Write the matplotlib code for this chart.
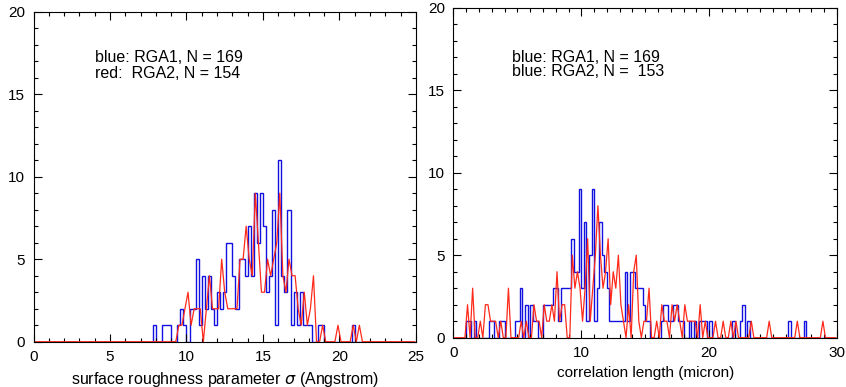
import numpy as np
import matplotlib
matplotlib.use("Agg")
import matplotlib.pyplot as plt
from matplotlib.ticker import MultipleLocator

plt.rcParams["font.family"] = ["Liberation Sans", "DejaVu Sans"]
plt.rcParams["mathtext.fontset"] = "dejavusans"

# ---- left panel: surface roughness (bin width 0.2) ----
left_blue_start = [7.8, 8.4, 8.6, 8.8, 9.4, 9.6, 9.8, 10.2, 10.4, 10.6, 10.8, 11.0, 11.2,
                   11.4, 11.6, 11.8, 12.0, 12.2, 12.4, 12.6, 12.8, 13.0, 13.2, 13.4, 13.6,
                   13.8, 14.0, 14.2, 14.4, 14.6, 14.8, 15.0, 15.2, 15.4, 15.6, 15.8, 16.0,
                   16.2, 16.4, 16.6, 16.8, 17.0, 17.2, 17.4, 17.6, 17.8, 18.0, 18.6, 18.8, 20.8]
left_blue_n = [1, 1, 1, 1, 1, 2, 1, 2, 2, 5, 1, 4, 2,
               4, 2, 1, 3, 2, 3, 6, 6, 4, 2, 5, 5,
               4, 7, 4, 9, 6, 9, 7, 3, 4, 8, 1, 11,
               4, 3, 8, 1, 3, 1, 3, 1, 1, 1, 1, 1, 1]

left_red_x = [9.5, 9.7, 9.9, 10.1, 10.3, 10.5, 10.7, 10.9, 11.1, 11.3, 11.5, 11.7, 11.9,
              12.1, 12.3, 12.5, 12.7, 12.9, 13.1, 13.3, 13.5, 13.7, 13.9, 14.1, 14.3,
              14.5, 14.7, 14.9, 15.1, 15.3, 15.5, 15.7, 15.9, 16.1, 16.3, 16.5, 16.7,
              16.9, 17.1, 17.3, 17.5, 17.7, 17.9, 18.1, 18.3, 18.9, 19.9, 20.9, 21.3]
left_red_n = [1, 1, 2, 3, 1, 2, 2, 2, 0, 2, 4, 2, 2,
              2, 5, 3, 2, 2, 2, 2, 5, 5, 7, 5, 4,
              9, 6, 3, 3, 5, 4, 5, 6, 9, 4, 3, 5,
              4, 4, 2, 1, 3, 1, 2, 4, 1, 1, 1, 1]

# ---- right panel: correlation length (bin width 0.2) ----
right_blue_start = [1.0, 1.2, 1.6, 2.8, 3.0, 3.6, 3.8, 4.8, 5.0, 5.2, 5.6, 6.0, 6.2, 6.4,
                    7.0, 7.2, 7.4, 7.6, 7.8, 8.0, 8.2, 8.4, 8.6, 8.8, 9.0, 9.2, 9.4, 9.6,
                    9.8, 10.0, 10.2, 10.4, 10.6, 10.8, 11.0, 11.2, 11.4, 11.6, 11.8, 12.0,
                    12.2, 12.4, 12.6, 12.8, 13.0, 13.2, 13.4, 13.6, 13.8, 14.0, 14.2, 14.4,
                    14.6, 14.8, 15.0, 15.2, 16.2, 16.4, 16.6, 16.8, 17.0, 17.2, 17.4, 17.6,
                    17.8, 18.4, 18.8, 19.2, 19.4, 19.6, 20.0, 21.8, 22.4, 22.6, 23.0, 26.2, 27.4]
right_blue_n = [1, 1, 1, 1, 1, 1, 1, 1, 1, 3, 2, 2, 1, 1,
                2, 2, 2, 2, 3, 3, 1, 3, 3, 3, 3, 6, 4, 4,
                9, 3, 7, 1, 5, 9, 1, 3, 7, 5, 4, 3,
                1, 1, 1, 1, 1, 1, 4, 1, 4, 4, 3, 3,
                3, 2, 1, 1, 1, 2, 2, 1, 1, 2, 2, 1,
                1, 1, 1, 1, 1, 1, 1, 1, 1, 2, 1, 1, 1]

right_red_x = [1.1, 1.5, 2.1, 2.5, 2.7, 2.9, 3.1, 3.3, 3.7, 4.3, 5.3, 5.7, 6.3, 6.5, 6.7,
               7.1, 7.3, 7.5, 7.7, 7.9, 8.1, 8.3, 8.5, 8.7, 9.3, 9.5, 9.7, 9.9,
               10.1, 10.3, 10.5, 10.7, 10.9, 11.1, 11.3, 11.5, 11.7, 11.9, 12.1, 12.3,
               12.5, 12.7, 12.9, 13.1, 13.3, 13.7, 14.1, 14.3, 14.5, 14.9, 15.1, 15.3,
               15.9, 16.3, 16.5, 16.7, 17.1, 17.3, 17.5, 17.7, 18.1, 18.3, 18.5, 18.7,
               18.9, 19.3, 19.7, 20.5, 21.1, 21.7, 22.1, 23.3, 24.7, 26.9, 28.9]
right_red_n = [2, 3, 1, 2, 2, 1, 1, 1, 1, 3, 1, 1, 2, 1, 1,
               2, 1, 1, 2, 1, 4, 1, 2, 2, 5, 3, 4, 3,
               1, 3, 6, 1, 3, 5, 8, 5, 3, 4, 6, 2,
               4, 3, 5, 2, 1, 2, 4, 5, 1, 1, 1, 3,
               1, 2, 1, 1, 2, 1, 2, 1, 2, 1, 1, 1,
               1, 2, 1, 1, 1, 1, 1, 1, 1, 1, 1]


def full_hist(starts, counts, xmax, width=0.2):
    edges = np.round(np.arange(0, xmax + width / 2, width), 2)
    vals = np.zeros(len(edges) - 1)
    for s, c in zip(starts, counts):
        vals[int(round(s / width))] = c
    return edges, vals


def full_line(xs, counts, xmax, width=0.2):
    centers = np.round(np.arange(width / 2, xmax, width), 2)
    vals = np.zeros(len(centers))
    for x, c in zip(xs, counts):
        vals[int(round((x - width / 2) / width))] = c
    return centers, vals


def style_axes(ax, xmax, xmajor):
    ax.set_xlim(0, xmax)
    ax.set_ylim(0, 20)
    ax.xaxis.set_major_locator(MultipleLocator(xmajor))
    ax.xaxis.set_minor_locator(MultipleLocator(1))
    ax.yaxis.set_major_locator(MultipleLocator(5))
    ax.yaxis.set_minor_locator(MultipleLocator(1))
    ax.tick_params(which="both", direction="in", top=True, right=True,
                   labelsize=11, width=0.8, pad=6)
    ax.tick_params(which="major", length=5.5)
    ax.tick_params(which="minor", length=2.8)
    for s in ax.spines.values():
        s.set_linewidth(0.8)


fig = plt.figure(figsize=(8.46, 3.87), dpi=100)
ax1 = fig.add_axes([0.0396, 0.117, 0.4521, 0.8527])
ax2 = fig.add_axes([0.536, 0.1274, 0.4533, 0.8527])

blue = "#1010e0"
red = "#ff2a1a"

e, v = full_hist(left_blue_start, left_blue_n, 25)
ax1.stairs(v, e, baseline=None, color=blue, lw=1.0)
cx, cv = full_line(left_red_x, left_red_n, 25)
ax1.plot(cx, cv, color=red, lw=0.9)
style_axes(ax1, 25, 5)
ax1.set_xlabel(r"surface roughness parameter $\sigma$ (Angstrom)", fontsize=11.5, labelpad=4)
ax1.text(4.0, 17.25, "blue: RGA1, N = 169", fontsize=11.5, va="center")
ax1.text(4.0, 16.28, "red:  RGA2, N = 154", fontsize=11.5, va="center")

e, v = full_hist(right_blue_start, right_blue_n, 30)
ax2.stairs(v, e, baseline=None, color=blue, lw=1.0)
cx, cv = full_line(right_red_x, right_red_n, 30)
ax2.plot(cx, cv, color=red, lw=0.9)
style_axes(ax2, 30, 10)
ax2.set_xlabel("correlation length (micron)", fontsize=11, labelpad=4)
ax2.text(4.57, 17.0, "blue: RGA1, N = 169", fontsize=11.5, va="center")
ax2.text(4.57, 16.16, "blue: RGA2, N =  153", fontsize=11.5, va="center")

fig.savefig("out.png", dpi=100)
